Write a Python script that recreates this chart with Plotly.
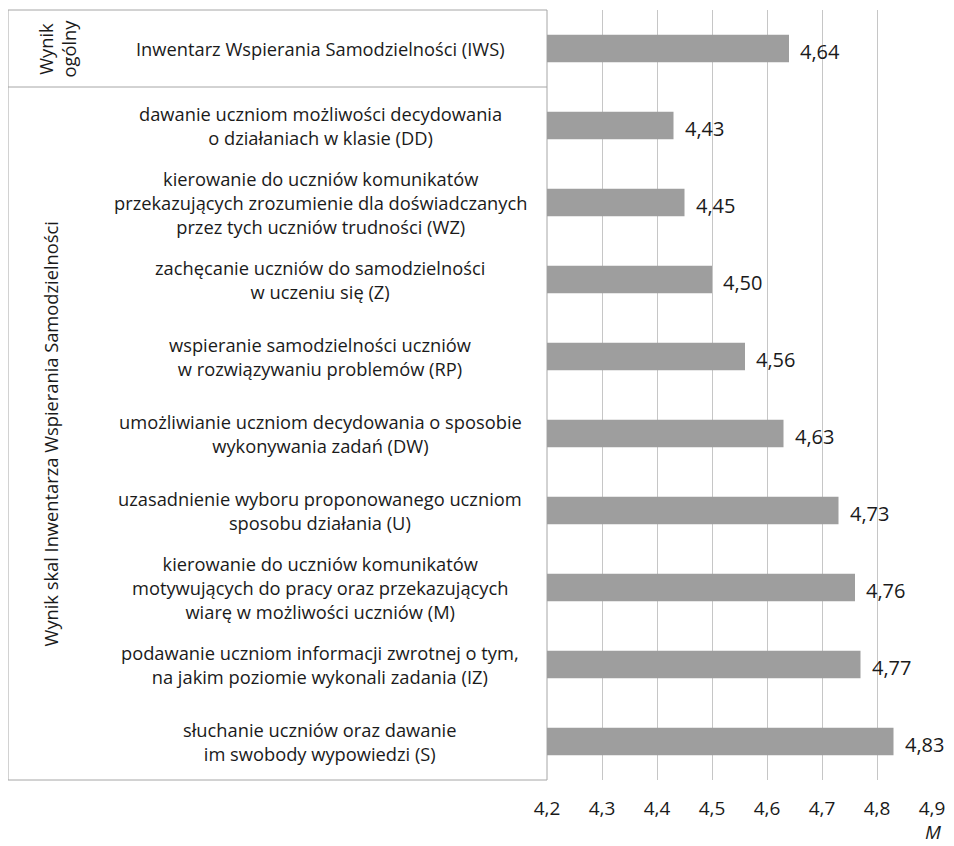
import plotly.graph_objects as go

categories = [
    "Inwentarz Wspierania Samodzielności (IWS)",
    "dawanie uczniom możliwości decydowania<br>o działaniach w klasie (DD)",
    "kierowanie do uczniów komunikatów<br>przekazujących zrozumienie dla doświadczanych<br>przez tych uczniów trudności (WZ)",
    "zachęcanie uczniów do samodzielności<br>w uczeniu się (Z)",
    "wspieranie samodzielności uczniów<br>w rozwiązywaniu problemów (RP)",
    "umożliwianie uczniom decydowania o sposobie<br>wykonywania zadań (DW)",
    "uzasadnienie wyboru proponowanego uczniom<br>sposobu działania (U)",
    "kierowanie do uczniów komunikatów<br>motywujących do pracy oraz przekazujących<br>wiarę w możliwości uczniów (M)",
    "podawanie uczniom informacji zwrotnej o tym,<br>na jakim poziomie wykonali zadania (IZ)",
    "słuchanie uczniów oraz dawanie<br>im swobody wypowiedzi (S)",
]
values = [4.64, 4.43, 4.45, 4.50, 4.56, 4.63, 4.73, 4.76, 4.77, 4.83]
tick_vals = [4.2, 4.3, 4.4, 4.5, 4.6, 4.7, 4.8, 4.9]
group_labels = ["Wynik<br>ogólny", "Wynik skal Inwentarza Wspierania Samodzielności"]
axis_title = "M"

FONT = "Open Sans"
TXT = "#1a1a1a"
# page offset (body margin) compensation
OX, OY = 8, 8
W, H = 954 - OX, 846 - OY
PL, PR, PT, PB = 547, 932, 10, 780  # plot area in page pixels
L = PL - OX
R = W - (PR - OX)
T = PT - OY
B = H - (PB - OY)
pw = PR - PL
ph = PB - PT

ids = list(range(len(categories)))

fig = go.Figure()
fig.add_trace(go.Bar(
    y=ids, x=[v - 4.2 for v in values], base=4.2, orientation="h",
    marker=dict(color="#9e9e9e", line=dict(width=0)),
    width=0.36, hoverinfo="skip",
))

def px_x(px):
    return (px - PL) / pw

def px_y(py):
    return (PB - py) / ph

annotations = []
for i, (c, v) in enumerate(zip(categories, values)):
    annotations.append(dict(
        x=px_x(320), xref="paper", y=i, yref="y",
        text=c, showarrow=False, xanchor="center", yanchor="middle",
        align="center", font=dict(family=FONT, size=18.3, color=TXT),
    ))
    annotations.append(dict(
        x=v, xref="x", y=i, yref="y", text=f"{v:.2f}".replace(".", ","),
        showarrow=False, xanchor="left", yanchor="middle", xshift=9, yshift=-3,
        font=dict(family=FONT, size=20, color=TXT),
    ))

annotations.append(dict(
    x=px_x(57), xref="paper", y=0, yref="y", text=group_labels[0],
    showarrow=False, textangle=-90, xanchor="center", yanchor="middle",
    font=dict(family=FONT, size=18.3, color=TXT),
))
annotations.append(dict(
    x=px_x(50), xref="paper", y=5, yref="y", text=group_labels[1],
    showarrow=False, textangle=-90, xanchor="center", yanchor="middle",
    font=dict(family=FONT, size=18.3, color=TXT),
))
annotations.append(dict(
    x=px_x(933), xref="paper", y=px_y(832), yref="paper",
    text=f"<i>{axis_title}</i>", showarrow=False, xanchor="center", yanchor="middle",
    font=dict(family=FONT, size=19, color=TXT),
))

line_col = "#a6a6a6"
shapes = [
    dict(type="rect", xref="paper", yref="paper",
         x0=px_x(8), x1=0, y0=0, y1=1,
         line=dict(color=line_col, width=1), layer="below"),
    dict(type="line", xref="paper", yref="y",
         x0=px_x(8), x1=0, y0=0.5, y1=0.5,
         line=dict(color=line_col, width=1)),
]

fig.update_layout(
    width=W, height=H,
    margin=dict(l=L, r=R, t=T, b=B, pad=0),
    plot_bgcolor="white", paper_bgcolor="white",
    separators=",.",
    showlegend=False,
    font=dict(family=FONT, size=16, color=TXT),
    xaxis=dict(range=[4.2, 4.9], tickvals=tick_vals, tickformat=".1f",
               showgrid=True, gridcolor="#c6c6c6", gridwidth=1,
               zeroline=False, showline=False, ticks="", ticklabelstandoff=15,
               tickfont=dict(family=FONT, size=19, color=TXT)),
    yaxis=dict(range=[len(categories) - 0.5, -0.5], showticklabels=False,
               showgrid=False, zeroline=False, showline=False, ticks=""),
    annotations=annotations, shapes=shapes,
)

fig.write_html("out.html")
